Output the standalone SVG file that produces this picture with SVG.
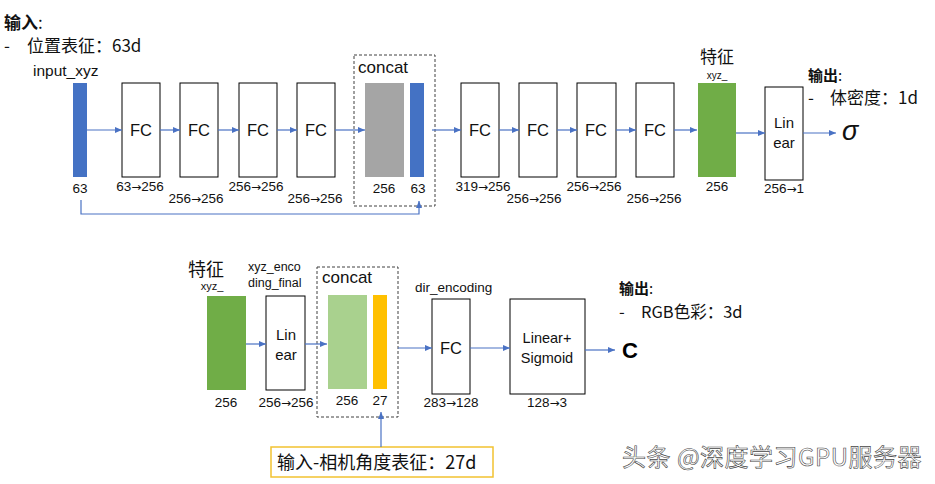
<svg xmlns="http://www.w3.org/2000/svg" width="935" height="484" viewBox="0 0 935 484">
<defs>
<marker id="ah" markerUnits="userSpaceOnUse" markerWidth="7" markerHeight="6" refX="7" refY="3" orient="auto">
<path d="M0,0 L7,3 L0,6 z" fill="#4A72C4"/>
</marker>
<style>
text{font-family:"Liberation Sans","Noto Sans CJK SC",sans-serif;fill:#111}
.box{fill:#fff;stroke:#000;stroke-width:1}
.fc{font-size:16.5px;text-anchor:middle}
.dim{font-size:13.5px;text-anchor:middle}
.ar{font-family:"DejaVu Sans",sans-serif;font-size:12px}
.lbl{font-size:15.5px}
.cjk{font-family:"Noto Sans CJK SC","Liberation Sans",sans-serif}
.bold{font-weight:bold}
.dash{fill:none;stroke:#404040;stroke-width:1;stroke-dasharray:3,2}
.conn{fill:none;stroke:#4A72C4;stroke-width:1.2;marker-end:url(#ah)}
</style>
</defs>
<rect width="935" height="484" fill="#fff"/>

<g id="input-text">
<text x="4" y="29" class="cjk bold" font-size="17">输入<tspan font-weight="normal">:</tspan></text>
<text x="4" y="52" class="cjk" font-size="17">-<tspan x="27">位置表征：63d</tspan></text>
</g>

<g id="input_xyz">
<text x="33" y="76" class="lbl">input_xyz</text>
<rect x="73" y="83" width="14" height="94" fill="#4472C4"/>
<text x="80" y="193" class="dim">63</text>
</g>

<g id="fc1"><rect x="122" y="83" width="38" height="94" class="box"/><text x="141" y="136" class="fc">FC</text><text x="140" y="191" class="dim">63<tspan class="ar">→</tspan>256</text></g>
<g id="fc2"><rect x="180" y="83" width="38" height="94" class="box"/><text x="199" y="136" class="fc">FC</text><text x="196" y="203" class="dim">256<tspan class="ar">→</tspan>256</text></g>
<g id="fc3"><rect x="239" y="83" width="38" height="94" class="box"/><text x="258" y="136" class="fc">FC</text><text x="256" y="191" class="dim">256<tspan class="ar">→</tspan>256</text></g>
<g id="fc4"><rect x="297" y="83" width="38" height="94" class="box"/><text x="316" y="136" class="fc">FC</text><text x="315" y="203" class="dim">256<tspan class="ar">→</tspan>256</text></g>

<g id="concat1">
<rect x="354" y="55" width="81" height="151" class="dash"/>
<text x="358" y="73" font-size="17">concat</text>
<rect x="365" y="83" width="39" height="94" fill="#A5A5A5"/>
<rect x="410" y="83" width="14" height="94" fill="#4472C4"/>
<text x="384" y="193" class="dim">256</text>
<text x="418" y="193" class="dim">63</text>
</g>

<g id="fc5"><rect x="461" y="83" width="38" height="94" class="box"/><text x="480" y="136" class="fc">FC</text><text x="483" y="191" class="dim">319<tspan class="ar">→</tspan>256</text></g>
<g id="fc6"><rect x="519" y="83" width="38" height="94" class="box"/><text x="538" y="136" class="fc">FC</text><text x="534" y="203" class="dim">256<tspan class="ar">→</tspan>256</text></g>
<g id="fc7"><rect x="577" y="83" width="39" height="94" class="box"/><text x="596" y="136" class="fc">FC</text><text x="594" y="191" class="dim">256<tspan class="ar">→</tspan>256</text></g>
<g id="fc8"><rect x="636" y="83" width="38" height="94" class="box"/><text x="655" y="136" class="fc">FC</text><text x="654" y="203" class="dim">256<tspan class="ar">→</tspan>256</text></g>

<g id="feature1">
<text x="717" y="63" class="cjk" font-size="17" text-anchor="middle">特征</text>
<text x="717" y="79" font-size="10" text-anchor="middle">xyz_</text>
<rect x="698" y="83" width="38" height="94" fill="#70AD47"/>
<text x="717" y="191" class="dim">256</text>
</g>

<g id="linear1">
<rect x="765" y="87" width="38" height="93" class="box"/>
<text x="784" y="128" font-size="15" text-anchor="middle">Lin</text>
<text x="784" y="148" font-size="15" text-anchor="middle">ear</text>
<text x="784" y="193" class="dim">256<tspan class="ar">→</tspan>1</text>
</g>

<g id="output1">
<text x="808" y="81" class="cjk bold" font-size="15">输出<tspan font-weight="normal">:</tspan></text>
<text x="808" y="104" class="cjk" font-size="17">-<tspan x="830">体密度：1d</tspan></text>
<text x="842" y="140" font-family="Liberation Serif,serif" font-style="italic" font-size="27">σ</text>
</g>

<g id="feature2">
<text x="188" y="276" class="cjk" font-size="18">特征</text>
<text x="212" y="290" font-size="11" text-anchor="middle">xyz_</text>
<rect x="207" y="296" width="39" height="94" fill="#70AD47"/>
<text x="226" y="407" class="dim">256</text>
</g>

<g id="linear2">
<text x="248" y="271" font-size="12.5">xyz_enco</text>
<text x="248" y="287" font-size="12.5">ding_final</text>
<rect x="266" y="296" width="39" height="94" class="box"/>
<text x="286" y="340" font-size="15" text-anchor="middle">Lin</text>
<text x="286" y="360" font-size="15" text-anchor="middle">ear</text>
<text x="286" y="407" class="dim">256<tspan class="ar">→</tspan>256</text>
</g>

<g id="concat2">
<rect x="317" y="267" width="81" height="150" class="dash"/>
<text x="322" y="283" font-size="17">concat</text>
<rect x="328" y="295" width="39" height="94" fill="#A9D18E"/>
<rect x="373" y="295" width="14" height="94" fill="#FFC000"/>
<text x="347" y="405" class="dim">256</text>
<text x="380" y="405" class="dim">27</text>
</g>

<g id="fc9">
<text x="415" y="292" font-size="13.5">dir_encoding</text>
<rect x="432" y="299" width="38" height="95" class="box"/>
<text x="451" y="354" class="fc">FC</text>
<text x="451" y="407" class="dim">283<tspan class="ar">→</tspan>128</text>
</g>

<g id="linsig">
<rect x="510" y="299" width="75" height="95" class="box"/>
<text x="547" y="343" font-size="14.5" text-anchor="middle">Linear+</text>
<text x="547" y="363" font-size="14.5" text-anchor="middle">Sigmoid</text>
<text x="547" y="407" class="dim">128<tspan class="ar">→</tspan>3</text>
</g>

<g id="output2">
<text x="619" y="294" class="cjk bold" font-size="15">输出<tspan font-weight="normal">:</tspan></text>
<text x="619" y="318" class="cjk" font-size="16.5">-<tspan x="641">RGB色彩：3d</tspan></text>
<text x="622" y="358" font-size="22" font-weight="bold" style="fill:#000">C</text>
</g>

<g id="dir-input">
<rect x="271" y="447" width="222" height="30" fill="#fff" stroke="#F2C231" stroke-width="1.5"/>
<text x="277" y="469" class="cjk" font-size="18">输入-相机角度表征：27d</text>
</g>

<g id="connectors">
<line x1="87" y1="130" x2="122" y2="130" class="conn"/>
<line x1="160" y1="130" x2="180" y2="130" class="conn"/>
<line x1="218" y1="130" x2="239" y2="130" class="conn"/>
<line x1="277" y1="130" x2="297" y2="130" class="conn"/>
<line x1="335" y1="130" x2="365" y2="130" class="conn"/>
<line x1="432" y1="130" x2="461" y2="130" class="conn"/>
<line x1="499" y1="130" x2="519" y2="130" class="conn"/>
<line x1="557" y1="130" x2="577" y2="130" class="conn"/>
<line x1="616" y1="130" x2="636" y2="130" class="conn"/>
<line x1="674" y1="130" x2="697" y2="130" class="conn"/>
<line x1="736" y1="133" x2="765" y2="133" class="conn"/>
<line x1="803" y1="133" x2="836" y2="133" class="conn"/>
<polyline points="81,200 81,214 419,214 419,201" class="conn"/>
<line x1="246" y1="344" x2="266" y2="344" class="conn"/>
<line x1="305" y1="344" x2="327" y2="344" class="conn"/>
<line x1="398" y1="348" x2="432" y2="348" class="conn"/>
<line x1="470" y1="348" x2="510" y2="348" class="conn"/>
<line x1="585" y1="350" x2="615" y2="350" class="conn"/>
<line x1="381" y1="447" x2="381" y2="412" class="conn"/>
</g>

<text x="622" y="466" class="cjk" font-size="24" letter-spacing="0.5" style="fill:#fff;stroke:#444;stroke-width:0.6">头条 @深度学习GPU服务器</text>
</svg>
